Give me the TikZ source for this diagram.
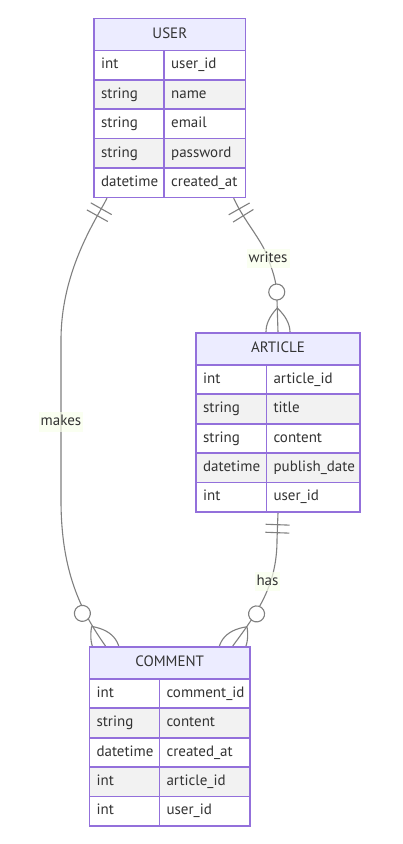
\documentclass[tikz,border=0pt]{standalone}
\usepackage{fontspec}
\setmainfont{PT Sans}
\usetikzlibrary{decorations.markings,backgrounds}
\definecolor{erborder}{HTML}{9370DB}
\definecolor{erhead}{HTML}{ECECFF}
\definecolor{eralt}{HTML}{F2F2F2}
\definecolor{ertext}{HTML}{333333}
\definecolor{erline}{HTML}{808080}
\definecolor{erlab}{RGB}{249,255,236}
\tikzset{
  erfont/.style={font=\fontsize{15}{18}\selectfont, text=ertext},
  cellbase/.style={erfont, draw=erborder, line width=1.7pt, inner ysep=0pt, inner xsep=7pt,
    minimum height=29.4pt, anchor=north west, text height=11pt, text depth=3.5pt, align=left},
  rowfill/.code={\ifodd#1\relax\tikzset{fill=white}\else\tikzset{fill=eralt}\fi},
  headcell/.style={erfont, draw=erborder, line width=1.7pt, fill=erhead, inner sep=0pt,
    minimum height=32pt, anchor=north west, text height=11pt, text depth=3.5pt},
  rel/.style={draw=erline, line width=1.1pt},
  onestart/.style={postaction={decorate, decoration={markings,
    mark=at position 12pt with {\draw[rel] (0,-12pt) -- (0,12pt);},
    mark=at position 20pt with {\draw[rel] (0,-12pt) -- (0,12pt);}}}},
  manyend/.style={postaction={decorate, decoration={markings,
    mark=at position 1 with {%
      \draw[rel] (-24pt,0pt) .. controls (-8pt,16pt) and (8pt,16pt) .. (24pt,0pt)
                 .. controls (8pt,-16pt) and (-8pt,-16pt) .. (-24pt,0pt);
      \draw[rel, fill=white] (-40pt,0pt) circle[radius=8pt];}}}},
  rlabel/.style={erfont, fill=erlab, fill opacity=0.7, text opacity=1, inner xsep=2pt, inner ysep=2.5pt,
    text height=11pt, text depth=3.5pt}
}
% #1 prefix, #2 x, #3 y, #4 x of second column, #5 text width col1, #6 text width col2, #7 total width, #8 title, #9 rows
\newcommand{\ertable}[9]{%
  \node[headcell, minimum width=#7pt] (#1-h) at (#2,#3) {#8};
  \foreach \ty/\nm [count=\i] in {#9} {
    \pgfmathsetmacro\ry{#3+32+29.4*(\i-1)}
    \node[cellbase, rowfill=\i, text width=#5pt] (#1-t\i) at (#2,\ry) {\ty};
    \node[cellbase, rowfill=\i, text width=#6pt] (#1-n\i) at (#4,\ry) {\nm};
  }
}
\begin{document}
\begin{tikzpicture}[x=1pt,y=-1pt]
\useasboundingbox (0,0) rectangle (403,844);
\ertable{u}{93.3}{17.5}{163.3}{56}{67.4}{151.4}{USER}
  {int/user\_id, string/name, string/email, string/password, datetime/created\_at}
\ertable{a}{195.3}{332}{265.7}{56.4}{79.3}{163.7}{ARTICLE}
  {int/article\_id, string/title, string/content, datetime/publish\_date, int/user\_id}
\ertable{c}{88.7}{646}{158.7}{56}{76.3}{160.3}{COMMENT}
  {int/comment\_id, string/content, datetime/created\_at, int/article\_id, int/user\_id}
\begin{scope}[on background layer]
  \fill[white] (0,0) rectangle (403,844);
  \draw[rel, onestart, manyend] ([xshift=-12.7pt]u-n5.south east)
     .. controls (244,221) and (262,240) .. (268,258)
     .. controls (272,270) and (277,280) .. (277,300) -- (a-h.north);
  \draw[rel, onestart, manyend] ([xshift=13.7pt]u-t5.south west)
     .. controls (97,218) and (61,270) .. (61,340) -- (61,500)
     .. controls (61,570) and (80,610) .. ([xshift=16.8pt]c-h.north west);
  \draw[rel, onestart, manyend] (a-h.north |- a-t5.south) -- (277,540)
     .. controls (277,585) and (258,612) .. ([xshift=-18pt]c-h.north east);
\end{scope}
\node[rlabel] (l-writes) at (268,258.5) {writes};
\node[rlabel] (l-makes) at (61,422) {makes};
\node[rlabel] (l-has) at (267.5,581.5) {has};
\end{tikzpicture}
\end{document}
